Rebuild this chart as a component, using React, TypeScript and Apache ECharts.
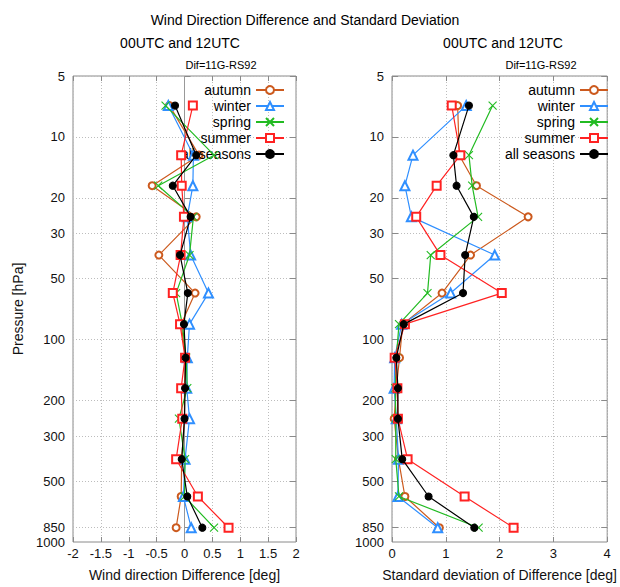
import React, { useEffect, useRef } from 'react';
import * as echarts from 'echarts';

const FONT = 'Liberation Sans, Arial, sans-serif';

const SEASONS = ['autumn', 'winter', 'spring', 'summer', 'all seasons'];
const COLORS = ['#cc5a1e', '#2f8fff', '#22bb22', '#ff2222', '#000000'];
const SYMBOLS = ['emptyCircle', 'emptyTriangle', 'path://M0,0L10,10M10,0L0,10', 'emptyRect', 'circle'];
const SYMBOL_SIZES = [7, 9, 8, 8, 7];

// pressure levels [hPa]
const LEVELS = [7, 12.3, 17.4, 24.8, 38.3, 59, 84, 123, 174, 246, 390, 596, 850];

// Wind direction difference [deg]
const DIFF_AUTUMN = [-0.27, 0.26, -0.58, 0.21, -0.46, 0.19, -0.06, 0.02, 0.0, 0.0, -0.05, -0.06, -0.15];
const DIFF_WINTER = [-0.29, 0.16, 0.15, 0.05, 0.11, 0.43, 0.09, 0.05, 0.04, 0.09, 0.01, -0.02, 0.12];
const DIFF_SPRING = [-0.34, 0.53, -0.47, 0.16, 0.09, -0.15, -0.04, 0.03, 0.05, -0.1, 0.01, 0.0, 0.53];
const DIFF_SUMMER = [0.15, -0.06, -0.05, -0.01, -0.07, -0.21, -0.08, 0.01, -0.06, -0.04, -0.15, 0.24, 0.79];
const DIFF_ALL = [-0.17, 0.21, -0.21, 0.11, -0.08, 0.06, -0.01, 0.02, 0.01, 0.0, -0.05, 0.05, 0.32];

// Standard deviation of difference [deg]
const STD_AUTUMN = [1.22, 1.25, 1.57, 2.53, 1.46, 0.93, 0.2, 0.14, 0.08, 0.04, 0.12, 0.24, 0.88];
const STD_WINTER = [1.38, 0.39, 0.24, 0.36, 1.91, 1.09, 0.18, 0.05, 0.04, 0.08, 0.12, 0.11, 0.85];
const STD_SPRING = [1.87, 1.43, 1.49, 1.6, 0.72, 0.66, 0.13, 0.08, 0.06, 0.07, 0.07, 0.13, 1.61];
const STD_SUMMER = [1.11, 1.27, 0.83, 0.45, 0.9, 2.04, 0.24, 0.05, 0.1, 0.11, 0.29, 1.35, 2.26];
const STD_ALL = [1.43, 1.14, 1.2, 1.52, 1.36, 1.32, 0.22, 0.08, 0.11, 0.11, 0.19, 0.68, 1.53];

const DIFF = [DIFF_AUTUMN, DIFF_WINTER, DIFF_SPRING, DIFF_SUMMER, DIFF_ALL];
const STD = [STD_AUTUMN, STD_WINTER, STD_SPRING, STD_SUMMER, STD_ALL];

const Y_TICKS = [5, 10, 20, 30, 50, 100, 200, 300, 500, 850];
const Y_BOTTOM_TICK = [1000];
const P_MIN = 5;
const P_MAX = 1000;

const lg = (v: number) => Math.log10(v);
const GRID_COLOR = '#bdbdbd';
const BOX_COLOR = '#8a8a8a';
const LABEL_COLOR = '#111';

function yAxes(gridIndex: number, withName: boolean) {
  const base = {
    type: 'value',
    gridIndex,
    min: lg(P_MIN),
    max: lg(P_MAX),
    inverse: true,
    axisLine: { show: false },
  };
  const labelStyle = {
    margin: 8,
    fontSize: 13,
    lineHeight: 13,
    color: LABEL_COLOR,
    fontFamily: FONT,
    formatter: (v: number) => String(Math.round(Math.pow(10, v))),
  };
  return [
    {
      ...base,
      position: 'left',
      name: withName ? 'Pressure [hPa]' : '',
      nameLocation: 'middle',
      nameGap: 48,
      nameTextStyle: { fontSize: 14, color: LABEL_COLOR, fontFamily: FONT },
      axisTick: {
        show: true,
        inside: true,
        length: 6,
        customValues: Y_TICKS.map(lg),
        lineStyle: { color: BOX_COLOR },
      },
      axisLabel: { show: true, customValues: Y_TICKS.map(lg), ...labelStyle },
      splitLine: { show: true, lineStyle: { color: GRID_COLOR, type: [1, 2], width: 1 } },
    },
    {
      ...base,
      position: 'left',
      axisTick: { show: false },
      axisLabel: { show: true, customValues: Y_BOTTOM_TICK.map(lg), ...labelStyle, padding: [2, 0, 0, 0] },
      splitLine: { show: false },
    },
    {
      ...base,
      position: 'right',
      axisTick: {
        show: true,
        inside: true,
        length: 6,
        customValues: Y_TICKS.map(lg),
        lineStyle: { color: BOX_COLOR },
      },
      axisLabel: { show: false },
      splitLine: { show: false },
    },
  ];
}

function xAxes(gridIndex: number, min: number, max: number, interval: number, name: string) {
  const base = { type: 'value', gridIndex, min, max, interval, axisLine: { show: false } };
  return [
    {
      ...base,
      position: 'bottom',
      name,
      nameLocation: 'middle',
      nameGap: 26,
      nameTextStyle: { fontSize: 14, color: LABEL_COLOR, fontFamily: FONT },
      axisTick: { show: true, inside: true, length: 5, lineStyle: { color: BOX_COLOR } },
      axisLabel: { show: true, margin: 5, fontSize: 13, color: LABEL_COLOR, fontFamily: FONT },
      splitLine: { show: true, lineStyle: { color: GRID_COLOR, type: [1, 2], width: 1 } },
    },
    {
      ...base,
      position: 'top',
      axisTick: { show: true, inside: true, length: 5, lineStyle: { color: BOX_COLOR } },
      axisLabel: { show: false },
      splitLine: { show: false },
    },
  ];
}

function makeSeries(values: number[][], xAxisIndex: number, yAxisIndex: number, zeroLine: boolean) {
  return SEASONS.map((name, i) => {
    const s: any = {
      name,
      type: 'line',
      xAxisIndex,
      yAxisIndex,
      data: LEVELS.map((p, k) => [values[i][k], lg(p)]),
      symbol: SYMBOLS[i],
      symbolSize: SYMBOL_SIZES[i],
      showSymbol: true,
      lineStyle: { color: COLORS[i], width: 1.2 },
      itemStyle: {
        color: COLORS[i],
        borderColor: COLORS[i],
        borderWidth: 1.1,
      },
      z: 3 + i,
    };
    if (zeroLine && i === 0) {
      s.markLine = {
        silent: true,
        symbol: ['none', 'none'],
        label: { show: false },
        lineStyle: { color: '#999', type: 'solid', width: 1 },
        data: [{ xAxis: 0 }],
        z: 1,
      };
    }
    return s;
  });
}

function legend(right: number) {
  return {
    data: SEASONS,
    orient: 'vertical',
    align: 'right',
    right,
    top: 82,
    padding: 0,
    itemWidth: 28,
    itemHeight: 10,
    itemGap: 0,
    selectedMode: false,
    textStyle: { fontSize: 14, lineHeight: 16, color: '#000', fontFamily: FONT },
  };
}

export default function App() {
  const ref = useRef<HTMLDivElement>(null);
  useEffect(() => {
    if (!ref.current) return;
    const chart = echarts.init(ref.current, undefined, { renderer: 'svg' });
    const option: any = {
      animation: false,
      backgroundColor: '#fff',
      textStyle: { fontFamily: FONT },
      grid: [
        { left: 73, top: 76, width: 223, height: 471, show: true, borderColor: BOX_COLOR, borderWidth: 1, backgroundColor: 'transparent' },
        { left: 392, top: 76, width: 223, height: 471, show: true, borderColor: BOX_COLOR, borderWidth: 1, backgroundColor: 'transparent' },
      ],
      xAxis: [
        ...xAxes(0, -2, 2, 0.5, 'Wind direction Difference [deg]'),
        ...xAxes(1, 0, 4, 1, 'Standard deviation of Difference [deg]'),
      ],
      yAxis: [...yAxes(0, true), ...yAxes(1, false)],
      legend: [legend(335), legend(11)],
      series: [...makeSeries(DIFF, 0, 0, true), ...makeSeries(STD, 2, 3, false)],
      graphic: [
        { type: 'text', x: 305, y: 20, style: { text: 'Wind Direction Difference and Standard Deviation', align: 'center', verticalAlign: 'middle', font: `14px ${FONT}`, fill: '#000' } },
        { type: 'text', x: 180, y: 43, style: { text: '00UTC and 12UTC', align: 'center', verticalAlign: 'middle', font: `14px ${FONT}`, fill: '#000' } },
        { type: 'text', x: 503, y: 43, style: { text: '00UTC and 12UTC', align: 'center', verticalAlign: 'middle', font: `14px ${FONT}`, fill: '#000' } },
        { type: 'text', x: 221, y: 65, style: { text: 'Dif=11G-RS92', align: 'center', verticalAlign: 'middle', font: `11px ${FONT}`, fill: '#000' } },
        { type: 'text', x: 541, y: 65, style: { text: 'Dif=11G-RS92', align: 'center', verticalAlign: 'middle', font: `11px ${FONT}`, fill: '#000' } },
      ],
    };
    chart.setOption(option);
    return () => chart.dispose();
  }, []);
  return <div ref={ref} style={{ position: 'absolute', left: 0, top: 0, width: 620, height: 587 }} />;
}
